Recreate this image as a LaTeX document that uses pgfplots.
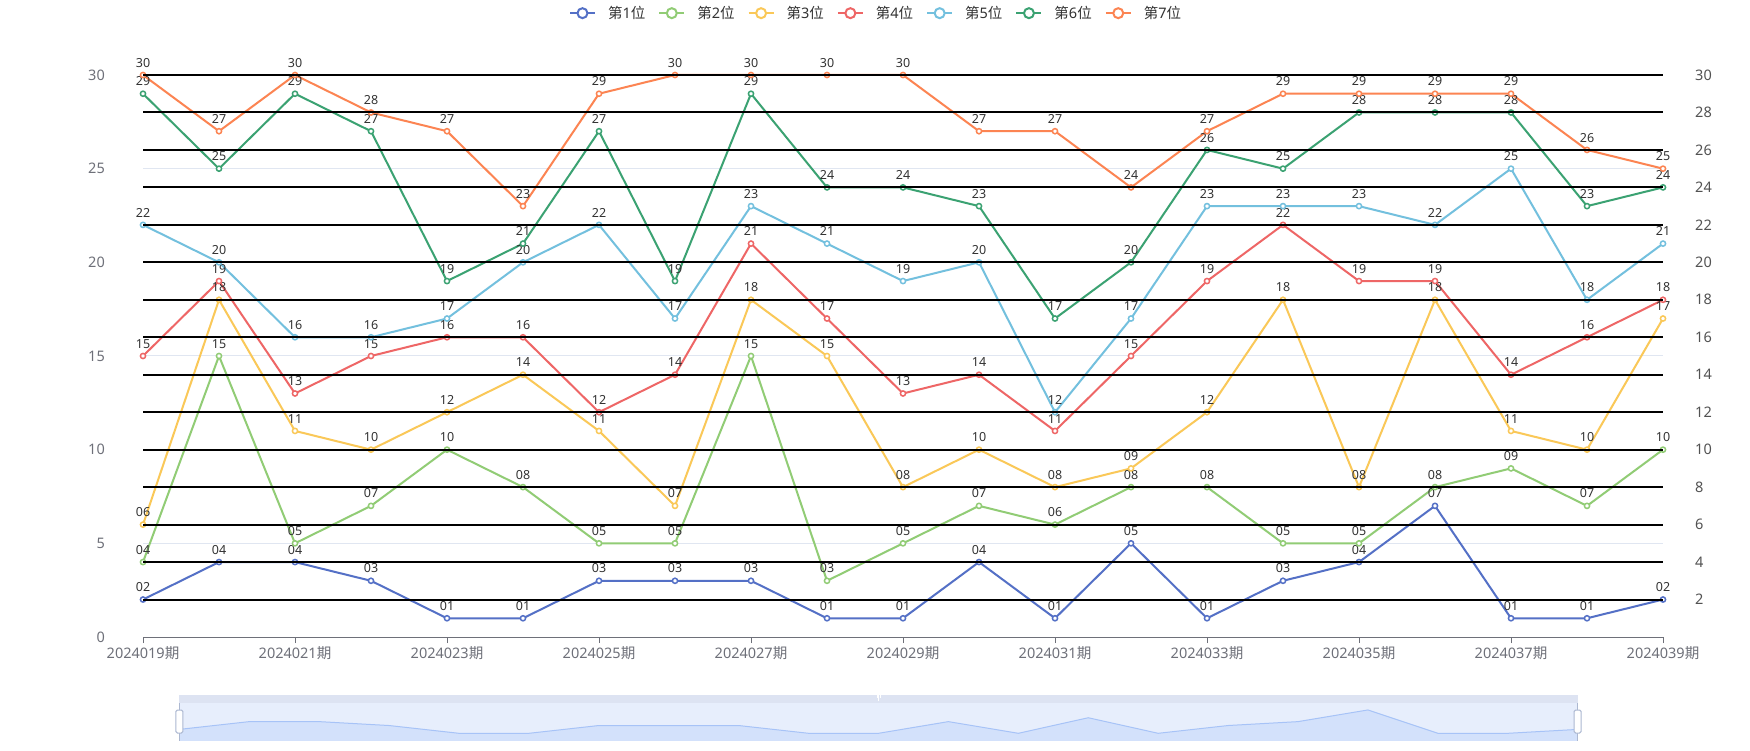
\documentclass[border=0pt]{standalone}
\usepackage{fontspec}
\setmainfont{Noto Sans}
\newfontfamily\cjk{Noto Sans CJK SC}
\usepackage{pgfplots}
\pgfplotsset{compat=1.18}

\definecolor{c1}{HTML}{5470C6}
\definecolor{c2}{HTML}{91CC75}
\definecolor{c3}{HTML}{FAC858}
\definecolor{c4}{HTML}{EE6666}
\definecolor{c5}{HTML}{73C0DE}
\definecolor{c6}{HTML}{3BA272}
\definecolor{c7}{HTML}{FC8452}
\definecolor{axisgray}{HTML}{6E7079}
\definecolor{gridgray}{HTML}{E0E6F1}
\definecolor{labgray}{HTML}{333333}
\definecolor{zoomband}{HTML}{DDE3F2}
\definecolor{zoombody}{HTML}{E7EEFC}
\definecolor{zoomfill}{HTML}{D3E1FB}
\definecolor{zoomline}{HTML}{A7C3F7}
\definecolor{handleedge}{HTML}{ACB8D1}

\pgfplotsset{
  pos/.style={line width=2pt, mark=*, mark size=2.6pt,
    mark options={fill=white, line width=1.5pt},
    nodes near coords, point meta=explicit symbolic},
}

\begin{document}
\begin{tikzpicture}
\useasboundingbox (0,0) rectangle (1750pt,750pt);
\fill[white] (0,0) rectangle (1750pt,750pt);

% main chart
\begin{axis}[
  at={(143pt,113pt)}, anchor=south west,
  width=1520pt, height=562pt, scale only axis,
  xmin=0, xmax=20, ymin=0, ymax=30,
  axis x line*=bottom, axis y line*=left,
  x axis line style={axisgray, line width=1pt, -},
  y axis line style={draw=none},
  xtick={0,2,...,20},
  xticklabels={2024019{\cjk 期},2024021{\cjk 期},2024023{\cjk 期},2024025{\cjk 期},2024027{\cjk 期},2024029{\cjk 期},2024031{\cjk 期},2024033{\cjk 期},2024035{\cjk 期},2024037{\cjk 期},2024039{\cjk 期}},
  ytick={0,5,...,30},
  ymajorgrids, grid style={gridgray, line width=1pt},
  tick align=outside, major tick length=6pt,
  xtick style={axisgray, line width=1pt},
  ytick style={draw=none},
  tick label style={font=\fontsize{14.5}{16}\selectfont, text=axisgray},
  xticklabel style={anchor=base, inner sep=0pt, yshift=-15pt},
  yticklabel style={anchor=east, inner sep=0pt, xshift=-32pt},
  /pgf/number format/assume math mode=true,
  clip=false,
  every node near coord/.append style={font=\fontsize{12.5}{14}\selectfont, text=labgray, anchor=south, inner sep=0pt, yshift=7pt},
  legend style={at={(0.4816,1.110)}, anchor=center, draw=none, fill=none,
    font=\fontsize{14.5}{16}\selectfont, text=labgray,
    nodes={inner sep=0pt},
    /tikz/every odd column/.append style={column sep=12pt},
    /tikz/every even column/.append style={column sep=13pt}},
  legend columns=7,
  legend image code/.code={
    \draw[line width=2pt] (0pt,0pt) -- (25pt,0pt);
    \draw[line width=2pt, fill=white] (12.5pt,0pt) circle (5pt);
  },
]
\addplot[pos, c1] coordinates {
 (0,2) [02] (1,4) [04] (2,4) [04] (3,3) [03] (4,1) [01] (5,1) [01] (6,3) [03]
 (7,3) [03] (8,3) [03] (9,1) [01] (10,1) [01] (11,4) [04] (12,1) [01] (13,5) [05]
 (14,1) [01] (15,3) [03] (16,4) [04] (17,7) [07] (18,1) [01] (19,1) [01] (20,2) [02]};
\addlegendentry{{\cjk 第}1{\cjk 位}}
\addplot[pos, c2] coordinates {
 (0,4) [04] (1,15) [15] (2,5) [05] (3,7) [07] (4,10) [10] (5,8) [08] (6,5) [05]
 (7,5) [05] (8,15) [15] (9,3) [03] (10,5) [05] (11,7) [07] (12,6) [06] (13,8) [08]
 (14,8) [08] (15,5) [05] (16,5) [05] (17,8) [08] (18,9) [09] (19,7) [07] (20,10) [10]};
\addlegendentry{{\cjk 第}2{\cjk 位}}
\addplot[pos, c3] coordinates {
 (0,6) [06] (1,18) [18] (2,11) [11] (3,10) [10] (4,12) [12] (5,14) [14] (6,11) [11]
 (7,7) [07] (8,18) [18] (9,15) [15] (10,8) [08] (11,10) [10] (12,8) [08] (13,9) [09]
 (14,12) [12] (15,18) [18] (16,8) [08] (17,18) [18] (18,11) [11] (19,10) [10] (20,17) [17]};
\addlegendentry{{\cjk 第}3{\cjk 位}}
\addplot[pos, c4] coordinates {
 (0,15) [15] (1,19) [19] (2,13) [13] (3,15) [15] (4,16) [16] (5,16) [16] (6,12) [12]
 (7,14) [14] (8,21) [21] (9,17) [17] (10,13) [13] (11,14) [14] (12,11) [11] (13,15) [15]
 (14,19) [19] (15,22) [22] (16,19) [19] (17,19) [19] (18,14) [14] (19,16) [16] (20,18) [18]};
\addlegendentry{{\cjk 第}4{\cjk 位}}
\addplot[pos, c5] coordinates {
 (0,22) [22] (1,20) [20] (2,16) [16] (3,16) [16] (4,17) [17] (5,20) [20] (6,22) [22]
 (7,17) [17] (8,23) [23] (9,21) [21] (10,19) [19] (11,20) [20] (12,12) [12] (13,17) [17]
 (14,23) [23] (15,23) [23] (16,23) [23] (17,22) [22] (18,25) [25] (19,18) [18] (20,21) [21]};
\addlegendentry{{\cjk 第}5{\cjk 位}}
\addplot[pos, c6] coordinates {
 (0,29) [29] (1,25) [25] (2,29) [29] (3,27) [27] (4,19) [19] (5,21) [21] (6,27) [27]
 (7,19) [19] (8,29) [29] (9,24) [24] (10,24) [24] (11,23) [23] (12,17) [17] (13,20) [20]
 (14,26) [26] (15,25) [25] (16,28) [28] (17,28) [28] (18,28) [28] (19,23) [23] (20,24) [24]};
\addlegendentry{{\cjk 第}6{\cjk 位}}
\addplot[pos, c7] coordinates {
 (0,30) [30] (1,27) [27] (2,30) [30] (3,28) [28] (4,27) [27] (5,23) [23] (6,29) [29]
 (7,30) [30] (8,30) [30] (9,30) [30] (10,30) [30] (11,27) [27] (12,27) [27] (13,24) [24]
 (14,27) [27] (15,29) [29] (16,29) [29] (17,29) [29] (18,29) [29] (19,26) [26] (20,25) [25]};
\addlegendentry{{\cjk 第}7{\cjk 位}}
\end{axis}

% right axis with black split lines
\begin{axis}[
  at={(143pt,113pt)}, anchor=south west,
  width=1520pt, height=562pt, scale only axis,
  xmin=0, xmax=20, ymin=0, ymax=30,
  axis y line*=right, axis x line=none,
  y axis line style={draw=none},
  ytick={2,4,...,30},
  ymajorgrids, grid style={black, line width=2pt},
  ytick style={draw=none},
  yticklabel style={font=\fontsize{14.5}{16}\selectfont, text=labgray!85!white, anchor=west, inner sep=0pt, xshift=32pt},
  /pgf/number format/assume math mode=true,
]
\end{axis}

% data zoom slider
\begin{axis}[
  at={(179.3pt,9.3pt)}, anchor=south west,
  width=1398.4pt, height=45.7pt, scale only axis,
  xmin=0, xmax=20, ymin=-0.9, ymax=10.84,
  axis lines=none, clip=false,
]
\fill[zoomband] (axis cs:0,8.71) rectangle (axis cs:20,10.84);
\fill[zoombody] (axis cs:0,-0.9) rectangle (axis cs:20,8.71);
\fill[zoomfill] (axis cs:0,-0.9) rectangle (axis cs:20,0);
\addplot[draw=none, fill=zoomfill, forget plot] coordinates {
 (0,2) (1,4) (2,4) (3,3) (4,1) (5,1) (6,3) (7,3) (8,3) (9,1) (10,1)
 (11,4) (12,1) (13,5) (14,1) (15,3) (16,4) (17,7) (18,1) (19,1) (20,2)} \closedcycle;
\addplot[zoomline, line width=1pt, forget plot] coordinates {
 (0,2) (1,4) (2,4) (3,3) (4,1) (5,1) (6,3) (7,3) (8,3) (9,1) (10,1)
 (11,4) (12,1) (13,5) (14,1) (15,3) (16,4) (17,7) (18,1) (19,1) (20,2)};
\draw[handleedge, line width=1pt] (axis cs:0,-0.9) -- (axis cs:0,8.71);
\draw[handleedge, line width=1pt] (axis cs:20,-0.9) -- (axis cs:20,8.71);
\draw[handleedge, fill=white, line width=1pt, rounded corners=1.5pt]
  (axis cs:0,-0.9) ++(-3.5pt,7.7pt) rectangle ++(7pt,23pt);
\draw[handleedge, fill=white, line width=1pt, rounded corners=1.5pt]
  (axis cs:20,-0.9) ++(-3.5pt,7.7pt) rectangle ++(7pt,23pt);
\draw[white, line width=0.6pt] (axis cs:10,9.2) ++(-1.5pt,0) -- ++(0,3pt);
\draw[white, line width=0.6pt] (axis cs:10,9.2) -- ++(0,3pt);
\draw[white, line width=0.6pt] (axis cs:10,9.2) ++(1.5pt,0) -- ++(0,3pt);
\end{axis}
\end{tikzpicture}
\end{document}
